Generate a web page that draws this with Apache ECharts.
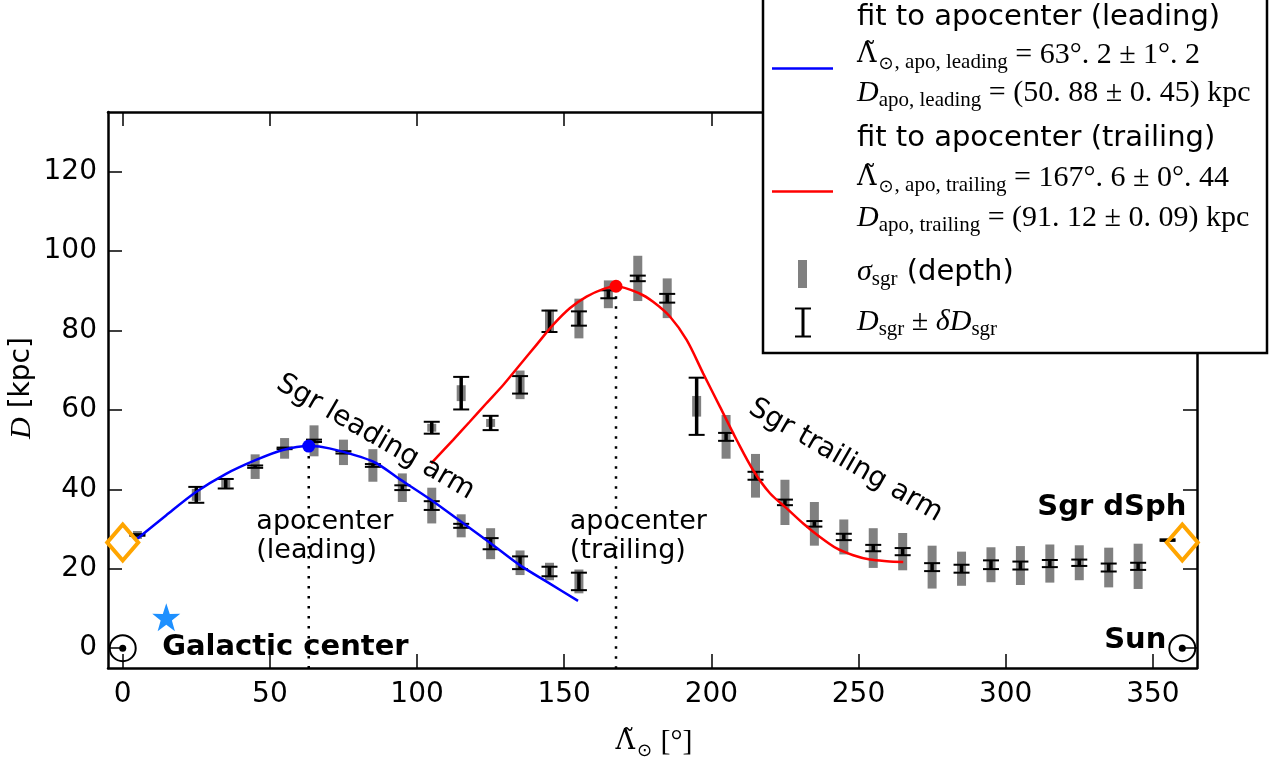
<!DOCTYPE html>
<html><head><meta charset="utf-8">
<script src="https://cdn.jsdelivr.net/npm/echarts@6/dist/echarts.min.js"></script>
<style>html,body{margin:0;padding:0;background:#fff}#c{width:1269px;height:762px}</style>
</head><body><div id="c"></div>
<script>
// ---- tick labels ----
const xTicks = [0, 50, 100, 150, 200, 250, 300, 350];
const yTicks = [0, 20, 40, 60, 80, 100, 120];

// ---- leading arm bins ----
const leadLon = [5, 25, 35, 45, 55, 65, 75, 85, 95, 105, 115, 125, 135, 145, 155];
const leadD   = [28.5, 38.6, 41.4, 45.7, 50.3, 52.2, 49.3, 46.0, 40.4, 35.9, 30.8, 26.3, 21.5, 19.3, 16.8];
const leadErr = [0.2, 2.0, 1.2, 0.3, 0.2, 0.3, 0.3, 0.35, 0.6, 1.1, 0.5, 1.4, 1.6, 1.2, 2.2];
const leadSig = [1.0, 1.5, 1.0, 3.1, 2.6, 3.9, 3.2, 4.1, 3.6, 4.5, 2.9, 3.9, 3.1, 2.2, 3.0];

// ---- trailing arm bins ----
const trailLon = [105, 115, 125, 135, 145, 155, 165, 175, 185, 195, 205, 215, 225, 235, 245, 255, 265, 275, 285, 295, 305, 315, 325, 335, 345, 355];
const trailD   = [55.5, 64.2, 56.7, 66.3, 82.3, 83.0, 89.1, 93.1, 88.1, 60.9, 53.2, 43.4, 36.7, 31.3, 28.0, 25.2, 24.3, 20.4, 20.0, 21.0, 20.8, 21.3, 21.5, 20.3, 20.6, 27.2];
const trailErr = [1.5, 4.1, 1.8, 2.2, 2.7, 1.8, 1.0, 0.7, 1.1, 7.2, 1.0, 1.0, 0.7, 0.7, 0.8, 0.8, 0.9, 1.0, 1.0, 1.1, 1.0, 0.9, 0.8, 1.0, 0.9, 0.2];
const trailSig = [1.0, 2.0, 1.0, 3.6, 2.9, 5.0, 3.5, 5.7, 5.0, 2.6, 5.5, 5.5, 5.7, 5.5, 4.4, 5.0, 4.7, 5.4, 4.3, 4.4, 4.9, 4.8, 4.4, 5.0, 5.7, 0.3];

// ---- fitted curves ----
const blueLon = [4.5, 14.7, 24.9, 35.1, 45.3, 54.4, 63.2, 70.2, 85, 94.6, 104.8, 115, 125, 134.9, 145, 154.7];
const blueD   = [27.3, 33.4, 39.3, 43.9, 47.4, 49.9, 50.88, 50.3, 47.0, 42.3, 37.3, 31.8, 26.4, 20.9, 16.3, 11.9];
const redLon = [104.8, 112.2, 117.9, 123.5, 129.2, 134.9, 140.5, 146.2, 151.9, 157.6, 163.2, 167.6, 175.6, 180.2, 185.9, 191.6, 197.2, 202.9, 208.6, 214.2, 219.9, 225.6, 231.2, 236.9, 242.6, 248.2, 253.9, 259.6, 265.2];
const redD   = [46.5, 52.4, 57.0, 61.6, 66.2, 71.3, 76.3, 81.4, 85.6, 88.5, 90.4, 91.12, 89.3, 87.2, 83.5, 77.6, 69.2, 60.8, 52.4, 44.8, 39.0, 35.2, 31.4, 28.0, 25.1, 23.4, 22.3, 21.9, 21.7];

// ---- special points ----
const apoLon = [63.2, 167.6];
const apoD = [50.88, 91.12];
const dsphLon = [0, 360];
const dsphD = [26.6, 26.6];
const sunLon = [0, 360];
const sunD = [0, 0];
const gcLon = [14.8];
const gcD = [7.8];

const zip3 = (a, b, c) => a.map((v, i) => [v, b[i], c[i]]);
const zip2 = (a, b) => a.map((v, i) => [v, b[i]]);

function sigRender(params, api) {
  const x = api.value(0), d = api.value(1), s = api.value(2);
  const t = api.coord([x, d + s]), b = api.coord([x, d - s]);
  return {type: 'rect', shape: {x: t[0] - 4.5, y: t[1], width: 9, height: b[1] - t[1]},
    style: {fill: '#808080'}};
}
function errRender(params, api) {
  const x = api.value(0), d = api.value(1), e = api.value(2);
  const t = api.coord([x, d + e]), b = api.coord([x, d - e]);
  const hw = 8;
  return {type: 'group', children: [
    {type: 'line', shape: {x1: t[0], y1: t[1], x2: b[0], y2: b[1]}, style: {stroke: '#000', lineWidth: 3.5}},
    {type: 'line', shape: {x1: t[0] - hw, y1: t[1], x2: t[0] + hw, y2: t[1]}, style: {stroke: '#000', lineWidth: 2}},
    {type: 'line', shape: {x1: b[0] - hw, y1: b[1], x2: b[0] + hw, y2: b[1]}, style: {stroke: '#000', lineWidth: 2}}
  ]};
}

const SANS = '"DejaVu Sans"';
const SERIF = '"Liberation Serif", "DejaVu Serif"';
const axLine = {onZero: false, lineStyle: {color: '#000', width: 2.5}};
const tickStyle = {inside: true, length: 14, lineStyle: {color: '#000', width: 1.5}};

const chart = echarts.init(document.getElementById('c'));
const starPath = 'path://M50,0 L61.8,35.1 L97.6,34.5 L69.1,56.2 L79.4,90.5 L50,70 L20.6,90.5 L30.9,56.2 L2.4,34.5 L38.2,35.1 Z';

chart.setOption({
  animation: false,
  backgroundColor: '#fff',
  grid: {left: 108, right: 72, top: 112, bottom: 94},
  xAxis: [
    {type: 'value', min: -5, max: 365, position: 'bottom', axisLine: axLine,
     axisTick: Object.assign({customValues: xTicks}, tickStyle),
     axisLabel: {customValues: xTicks, fontSize: 28, fontFamily: SANS, color: '#000', margin: 13},
     splitLine: {show: false}},
    {type: 'value', min: -5, max: 365, position: 'top', axisLine: axLine,
     axisTick: Object.assign({customValues: xTicks}, tickStyle),
     axisLabel: {show: false}, splitLine: {show: false}}
  ],
  yAxis: [
    {type: 'value', min: -5, max: 135, position: 'left', axisLine: axLine,
     axisTick: Object.assign({customValues: yTicks}, tickStyle),
     axisLabel: {customValues: yTicks, fontSize: 28, fontFamily: SANS, color: '#000', margin: 11},
     splitLine: {show: false}},
    {type: 'value', min: -5, max: 135, position: 'right', axisLine: axLine,
     axisTick: Object.assign({customValues: yTicks}, tickStyle),
     axisLabel: {show: false}, splitLine: {show: false}}
  ],
  series: [
    {type: 'custom', name: 'sigLead', renderItem: sigRender, data: zip3(leadLon, leadD, leadSig), encode: {x: 0, y: 1}, z: 2, clip: false},
    {type: 'custom', name: 'sigTrail', renderItem: sigRender, data: zip3(trailLon, trailD, trailSig), encode: {x: 0, y: 1}, z: 2, clip: false},
    {type: 'custom', name: 'errLead', renderItem: errRender, data: zip3(leadLon, leadD, leadErr), encode: {x: 0, y: 1}, z: 3, clip: false},
    {type: 'custom', name: 'errTrail', renderItem: errRender, data: zip3(trailLon, trailD, trailErr), encode: {x: 0, y: 1}, z: 3, clip: false},
    {type: 'line', name: 'dot1', data: [[apoLon[0], apoD[0]], [apoLon[0], -5]], showSymbol: false, z: 1,
     lineStyle: {color: '#000', width: 2.5, type: [2.5, 7.5]}},
    {type: 'line', name: 'dot2', data: [[apoLon[1], apoD[1]], [apoLon[1], -5]], showSymbol: false, z: 1,
     lineStyle: {color: '#000', width: 2.5, type: [2.5, 7.5]}},
    {type: 'line', name: 'fitLead', data: zip2(blueLon, blueD), showSymbol: false, smooth: 0.3, z: 4,
     lineStyle: {color: '#0000ff', width: 2.5}},
    {type: 'line', name: 'fitTrail', data: zip2(redLon, redD), showSymbol: false, smooth: 0.3, z: 4,
     lineStyle: {color: '#ff0000', width: 2.5}},
    {type: 'scatter', name: 'apoL', data: [[apoLon[0], apoD[0]]], symbol: 'circle', symbolSize: 13, z: 5,
     itemStyle: {color: '#0000ff', opacity: 1}},
    {type: 'scatter', name: 'apoT', data: [[apoLon[1], apoD[1]]], symbol: 'circle', symbolSize: 13, z: 5,
     itemStyle: {color: '#ff0000', opacity: 1}},
    {type: 'scatter', name: 'dsph', data: zip2(dsphLon, dsphD), symbol: 'diamond', symbolSize: [31, 36], clip: false, z: 5,
     itemStyle: {color: 'rgba(0,0,0,0)', borderColor: '#ffa500', borderWidth: 4, opacity: 1}},
    {type: 'scatter', name: 'sun', data: zip2(sunLon, sunD), symbol: 'circle', symbolSize: 26, clip: false, z: 5,
     itemStyle: {color: 'rgba(0,0,0,0)', borderColor: '#000', borderWidth: 2, opacity: 1}},
    {type: 'scatter', name: 'sunDot', data: zip2(sunLon, sunD), symbol: 'circle', symbolSize: 7, clip: false, z: 5,
     itemStyle: {color: '#000', opacity: 1}},
    {type: 'scatter', name: 'gc', data: zip2(gcLon, gcD), symbol: starPath, symbolSize: 28, clip: false, z: 5,
     itemStyle: {color: '#1e90ff', opacity: 1}}
  ]
});

const px = (x, y) => chart.convertToPixel({gridIndex: 0}, [x, y]);

function note(text, x, y, opt) {
  const p = px(x, y);
  return {type: 'text', x: p[0], y: p[1], rotation: opt.rot || 0, z: 50,
    style: {text: text, x: 0, y: 0, fill: '#000',
      font: (opt.bold ? 'bold ' : '') + opt.size + 'px ' + SANS,
      align: opt.align || 'left', verticalAlign: 'middle', lineHeight: opt.lh || opt.size}};
}

const subRich = {
  L: {fontFamily: '"DejaVu Serif"', fontSize: 27, lineHeight: 36, verticalAlign: 'middle', fill: '#000'},
  D: {fontFamily: SERIF, fontStyle: 'italic', fontSize: 30, lineHeight: 36, verticalAlign: 'middle', fill: '#000'},
  m: {fontFamily: SERIF, fontSize: 30, lineHeight: 36, verticalAlign: 'middle', fill: '#000'},
  s: {fontFamily: SERIF, fontSize: 21, lineHeight: 16, verticalAlign: 'bottom', fill: '#000'},
  o: {fontFamily: SANS, fontSize: 18, lineHeight: 16, verticalAlign: 'bottom', fill: '#000', padding: [0, 1, 0, 2]},
  t: {fontFamily: SANS, fontSize: 29, lineHeight: 36, verticalAlign: 'middle', fill: '#000'},
  k: {fontFamily: SANS, fontSize: 28, lineHeight: 36, verticalAlign: 'middle', fill: '#000'}
};
function rtext(text, x, y, align, extra) {
  return Object.assign({type: 'text', x: x, y: y, z: 101,
    style: {text: text, x: 0, y: 0, rich: subRich, align: align || 'left', verticalAlign: 'middle'}}, extra || {});
}

const LX = 857;
const graphics = [
  // annotations in data coordinates
  note('Sgr leading arm', 85.9, 53.1, {size: 28, rot: -Math.PI / 6, align: 'center'}),
  note('Sgr trailing arm', 245.6, 47.2, {size: 28, rot: -Math.PI / 6, align: 'center'}),
  note('apocenter\n(leading)', 45.4, 28.0, {size: 27, lh: 29}),
  note('apocenter\n(trailing)', 151.9, 28.0, {size: 27, lh: 29}),
  note('Galactic center', 13.4, 0.2, {size: 29, bold: true}),
  note('Sgr dSph', 361.4, 35.5, {size: 29, bold: true, align: 'right'}),
  note('Sun', 354.6, 2.0, {size: 29, bold: true, align: 'right'}),
  // axis names
  rtext('{L|Λ\u0303}{o|⊙}{m| [°]}', 654, 742, 'center'),
  rtext('{D|D}{k| [kpc]}', 22, 388, 'center', {rotation: Math.PI / 2}),
  // legend
  {type: 'rect', z: 100, shape: {x: 763, y: -3, width: 504, height: 356},
   style: {fill: '#fff', stroke: '#000', lineWidth: 2.5}},
  {type: 'line', z: 101, shape: {x1: 772, y1: 68.5, x2: 833, y2: 68.5}, style: {stroke: '#0000ff', lineWidth: 2.5}},
  {type: 'line', z: 101, shape: {x1: 772, y1: 191.5, x2: 833, y2: 191.5}, style: {stroke: '#ff0000', lineWidth: 2.5}},
  {type: 'rect', z: 101, shape: {x: 798, y: 260, width: 9, height: 28}, style: {fill: '#808080'}},
  {type: 'line', z: 101, shape: {x1: 803, y1: 308.5, x2: 803, y2: 336.5}, style: {stroke: '#000', lineWidth: 3}},
  {type: 'line', z: 101, shape: {x1: 795, y1: 308.5, x2: 811, y2: 308.5}, style: {stroke: '#000', lineWidth: 2}},
  {type: 'line', z: 101, shape: {x1: 795, y1: 336.5, x2: 811, y2: 336.5}, style: {stroke: '#000', lineWidth: 2}},
  rtext('{t|fit to apocenter (leading)}', LX, 17),
  rtext('{L|Λ\u0303}{o|⊙}{s|, apo, leading}{m| = 63°. 2 ± 1°. 2}', LX, 55),
  rtext('{D|D}{s|apo, leading}{m| = (50. 88 ± 0. 45) kpc}', LX, 93),
  rtext('{t|fit to apocenter (trailing)}', LX, 138),
  rtext('{L|Λ\u0303}{o|⊙}{s|, apo, trailing}{m| = 167°. 6 ± 0°. 44}', LX, 178),
  rtext('{D|D}{s|apo, trailing}{m| = (91. 12 ± 0. 09) kpc}', LX, 218),
  rtext('{D|σ}{s|sgr}{t| (depth)}', LX, 272),
  rtext('{D|D}{s|sgr}{m| ± }{D|δD}{s|sgr}', LX, 322)
];
chart.setOption({graphic: graphics});
</script>
</body></html>
